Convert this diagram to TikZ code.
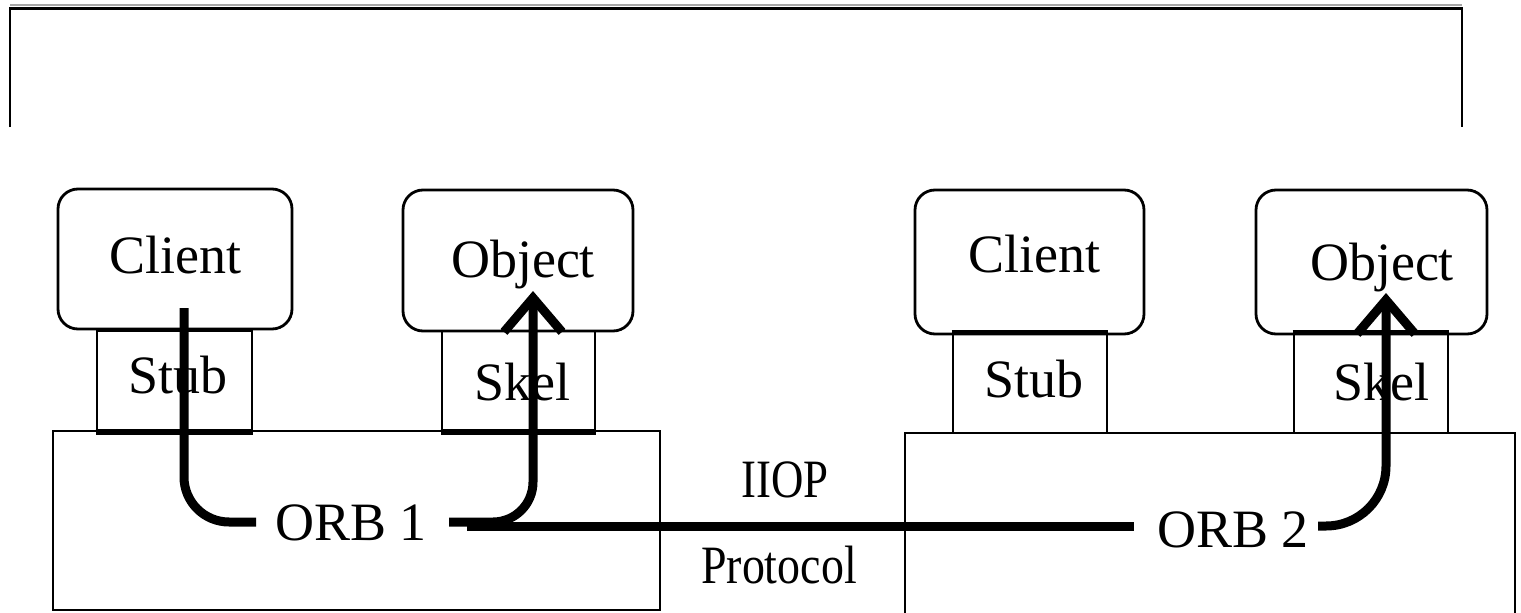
\documentclass[tikz,border=0pt]{standalone}
\usepackage{fontspec}
\setmainfont{Liberation Serif}
\usetikzlibrary{arrows.meta}
\begin{document}
\begin{tikzpicture}[x=1pt,y=-1pt,
  rbox/.style={draw, rounded corners=20pt, line width=2.8pt, inner sep=0pt},
  sbox/.style={draw, line width=2.8pt, inner sep=0pt},
  lbl/.style={anchor=base, inner sep=0pt, font=\fontsize{54}{60}\selectfont},
  flow/.style={line width=9pt},
  tipped/.style={-{Straight Barb[length=34pt,width=58pt]}}]
\useasboundingbox (0,0) rectangle (1521,613);
\clip (0,0) rectangle (1521,613);
\fill[white] (0,0) rectangle (1521,613);
% top frame (open at bottom)
\draw[line width=2pt, black!35] (10,5) -- (1462,5);
\draw[line width=2.8pt] (10,127) -- (10,8.5) -- (1462,8.5) -- (1462,127);
% ORB boxes
\node[sbox, minimum width=607pt, minimum height=179pt] (orbbox1) at (356.5,520.5) {};
\node[sbox, minimum width=610pt, minimum height=200pt] (orbbox2) at (1210,533) {};
% client / object boxes
\node[rbox, minimum width=234pt, minimum height=140pt] (client1) at (175,259) {};
\node[rbox, minimum width=230pt, minimum height=141pt] (object1) at (518,260.5) {};
\node[rbox, minimum width=229pt, minimum height=144pt] (client2) at (1029.5,262) {};
\node[rbox, minimum width=231pt, minimum height=144pt] (object2) at (1371.5,262) {};
% stub / skel boxes
\node[sbox, minimum width=155pt, minimum height=100pt] (stub1) at (174.5,381) {};
\node[sbox, minimum width=153pt, minimum height=100pt] (skel1) at (518.5,381) {};
\node[sbox, minimum width=154pt, minimum height=99pt] (stub2) at (1030,383.5) {};
\node[sbox, minimum width=154pt, minimum height=99pt] (skel2) at (1371,383.5) {};
\draw[line width=6pt] (stub1.south west) -- (stub1.south east);
\draw[line width=6pt] (skel1.south west) -- (skel1.south east);
\draw[line width=4.5pt] (stub2.north west) -- (stub2.north east);
\draw[line width=4.5pt] (skel2.north west) -- (skel2.north east);
% labels
\node[lbl] (tclient1) at (175,273) {Client};
\node[lbl] (tstub1) at (178,393) {Stub};
\node[lbl] (tobject1) at (523,277) {Object};
\node[lbl] (tskel1) at (522,400) {Skel};
\node[lbl] (torb1) at (351,540) {ORB 1};
\node[lbl] (tclient2) at (1034,272) {Client};
\node[lbl] (tstub2) at (1034,397) {Stub};
\node[lbl] (tobject2) at (1382,280) {Object};
\node[lbl] (tskel2) at (1381,400) {Skel};
\node[lbl] (torb2) at (1233,547) {ORB 2};
\node[lbl, xscale=0.83] (tiiop) at (785,497) {IIOP};
\node[lbl, xscale=0.85] (tproto) at (779,583) {Protocol};
% connector end points
\coordinate (a1) at (184,308);
\coordinate (a1e) at (256,522);
\coordinate (b1) at (449,522);
\coordinate (b1t) at (533,291);
\coordinate (p1) at (467,526);
\coordinate (p2) at (1134,526);
\coordinate (b2) at (1318,526);
\coordinate (b2t) at (1386,293);
% connectors
\draw[flow, rounded corners=45pt] (a1) |- (a1e);
\draw[flow, rounded corners=40pt, tipped] (b1) -| (b1t);
\draw[flow] (p1) -- (p2);
\draw[flow, rounded corners=60pt, tipped] (b2) -| (b2t);
\end{tikzpicture}
\end{document}
